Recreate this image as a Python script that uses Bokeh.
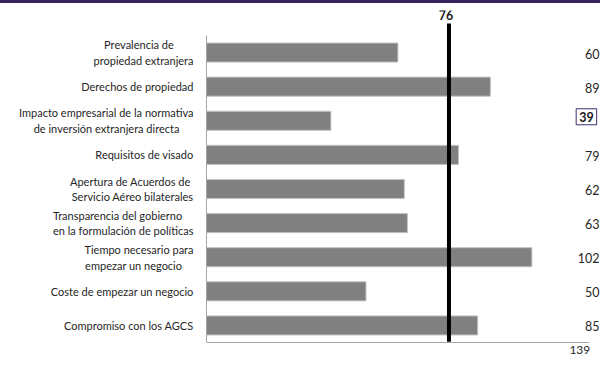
from bokeh.plotting import figure
from bokeh.models import Range1d, FixedTicker, Label, ColumnDataSource, Div
from bokeh.layouts import column
from bokeh.embed import file_html
from bokeh.resources import INLINE
from bokeh.core.properties import value

categories = [
    "Prevalencia de\npropiedad extranjera",
    "Derechos de propiedad",
    "Impacto empresarial de la normativa\nde inversión extranjera directa",
    "Requisitos de visado",
    "Apertura de Acuerdos de\nServicio Aéreo bilaterales",
    "Transparencia del gobierno\nen la formulación de políticas",
    "Tiempo necesario para\nempezar un negocio",
    "Coste de empezar un negocio",
    "Compromiso con los AGCS",
]
ranks = [60, 89, 39, 79, 62, 63, 102, 50, 85]
highlight = [False, False, True, False, False, False, False, False, False]
reference_rank = 76
total_countries = 139

# trailing non-breaking spaces so that the lines of a label look centred (style only)
line_pad = [[7, 0], [0], [0, 5], [0], [1, 0], [4, 0], [0, 4], [0], [0]]

FONT = "Lato"
NBSP = "\u00a0"
n = len(categories)
ypos = [n - i for i in range(n)]  # top category highest
SLOT = 307 / 9  # pixels per category slot
AXIS_END = 120  # extent of the drawn horizontal axis line


def padded(label, pads):
    return "\n".join(line + NBSP * k for line, k in zip(label.split("\n"), pads))


src = ColumnDataSource(dict(y=ypos, rank=ranks))

p = figure(width=600, height=353, output_backend="svg", toolbar_location=None,
           x_axis_location=None,
           x_range=Range1d(0, 123.5),
           y_range=Range1d(0.5 - 14 / SLOT, 0.5 + 332 / SLOT),
           min_border_left=206, min_border_right=0, min_border_top=7,
           min_border_bottom=0)
p.outline_line_color = None
p.grid.visible = False

p.hbar(y="y", right="rank", left=0, height=0.56, source=src,
       fill_color="#808080", line_color="#c4c4c4", line_width=1)

# horizontal axis line
p.segment(x0=[0], x1=[AXIS_END], y0=[0.5], y1=[0.5], line_color="#a6a6a6", line_width=1)

# reference vertical line
p.segment(x0=[reference_rank], x1=[reference_rank], y0=[0.52], y1=[0.5 + 319 / SLOT],
          line_color="black", line_width=4)
p.add_layout(Label(x=reference_rank, y=0.5 + 328 / SLOT, text=str(reference_rank),
                   text_align="center", text_baseline="middle",
                   text_font=FONT, text_font_size="12.5px", text_font_style="bold",
                   text_color="#1a1a1a", x_offset=-3))

# value labels on the right
normal = [i for i in range(n) if not highlight[i]]
p.text(x=[123.2] * len(normal), y=[ypos[i] for i in normal],
       text=[str(ranks[i]) for i in normal],
       text_align="right", text_baseline="middle", y_offset=1,
       text_font=value(FONT), text_font_size="12.5px", text_color="#262626")
for i in range(n):
    if highlight[i]:
        p.add_layout(Label(x=122.3, y=ypos[i], text=str(ranks[i]),
                           text_align="right", text_baseline="middle", y_offset=4,
                           text_font=FONT, text_font_size="12.5px",
                           text_font_style="bold", text_color="#1a1a1a",
                           border_line_color="#3b2d6b", border_line_width=1,
                           padding=3))

# total label under the axis end
p.text(x=[AXIS_END + 0.3], y=[0.5 - 7 / SLOT], text=[str(total_countries)],
       text_align="right", text_baseline="middle",
       text_font=value(FONT), text_font_size="12px", text_color="#262626")

# vertical axis with the category labels
ya = p.yaxis[0]
ya.bounds = (0.5, n + 0.5)
ya.axis_line_color = "#a6a6a6"
ya.ticker = FixedTicker(ticks=ypos)
ya.major_label_overrides = {y: padded(c, pads) for y, c, pads in zip(ypos, categories, line_pad)}
ya.major_tick_line_color = None
ya.minor_tick_line_color = None
ya.major_tick_out = 0
ya.major_tick_in = 0
ya.major_label_standoff = 13
ya.major_label_text_font = FONT
ya.major_label_text_font_size = "11px"
ya.major_label_text_color = "#262626"

topline = Div(width=600, height=3, margin=(0, 0, 0, 0),
              styles={"background-color": "#35245e"})
layout = column(topline, p, spacing=0)

open("out.html", "w").write(file_html(layout, INLINE))
